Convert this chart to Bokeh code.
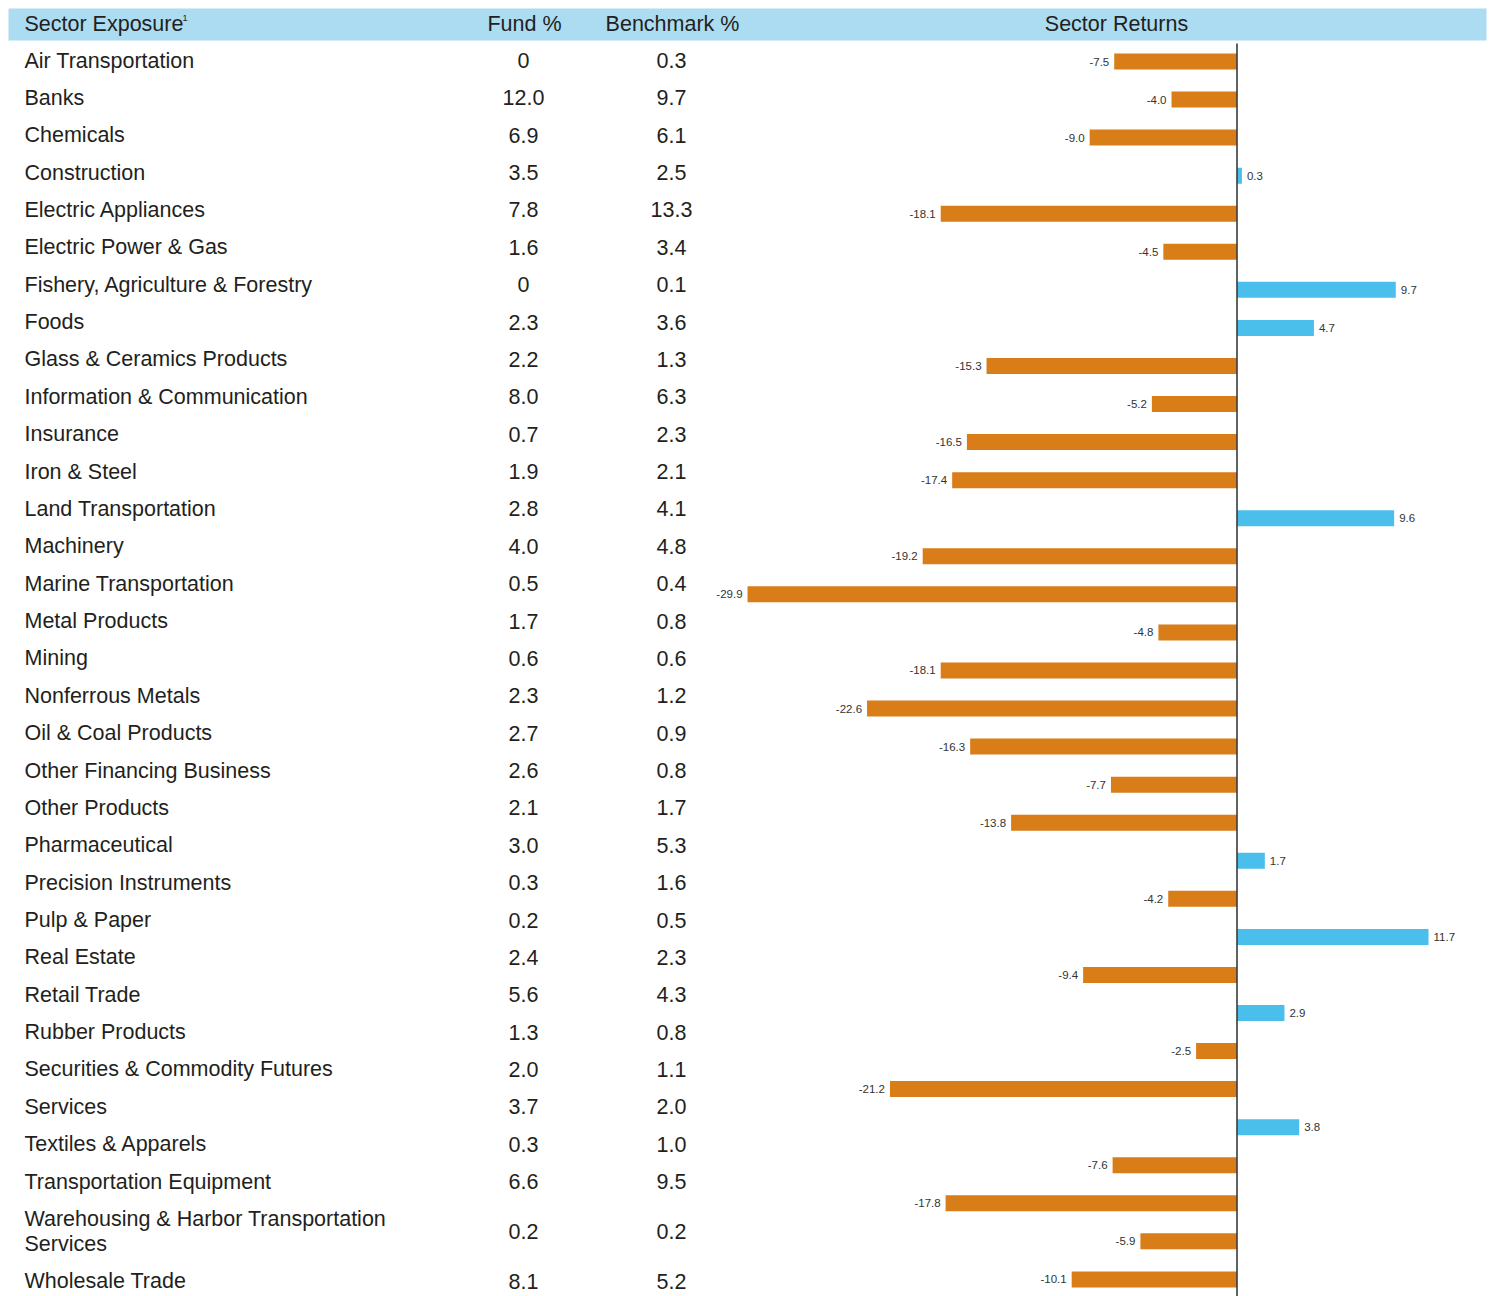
import textwrap
from bokeh.plotting import figure
from bokeh.models import Range1d
from bokeh.embed import file_html
from bokeh.resources import INLINE
from bokeh.core.properties import value

# ---------------- data ----------------
sectors = [
    "Air Transportation", "Banks", "Chemicals", "Construction",
    "Electric Appliances", "Electric Power & Gas",
    "Fishery, Agriculture & Forestry", "Foods", "Glass & Ceramics Products",
    "Information & Communication", "Insurance", "Iron & Steel",
    "Land Transportation", "Machinery", "Marine Transportation",
    "Metal Products", "Mining", "Nonferrous Metals", "Oil & Coal Products",
    "Other Financing Business", "Other Products", "Pharmaceutical",
    "Precision Instruments", "Pulp & Paper", "Real Estate", "Retail Trade",
    "Rubber Products", "Securities & Commodity Futures", "Services",
    "Textiles & Apparels", "Transportation Equipment",
    "Warehousing & Harbor Transportation Services", "Wholesale Trade",
]
fund = [0, 12.0, 6.9, 3.5, 7.8, 1.6, 0, 2.3, 2.2, 8.0, 0.7, 1.9, 2.8, 4.0,
        0.5, 1.7, 0.6, 2.3, 2.7, 2.6, 2.1, 3.0, 0.3, 0.2, 2.4, 5.6, 1.3, 2.0,
        3.7, 0.3, 6.6, 0.2, 8.1]
benchmark = [0.3, 9.7, 6.1, 2.5, 13.3, 3.4, 0.1, 3.6, 1.3, 6.3, 2.3, 2.1, 4.1,
             4.8, 0.4, 0.8, 0.6, 1.2, 0.9, 0.8, 1.7, 5.3, 1.6, 0.5, 2.3, 4.3,
             0.8, 1.1, 2.0, 1.0, 9.5, 0.2, 5.2]
returns = [-7.5, -4.0, -9.0, 0.3, -18.1, -4.5, 9.7, 4.7, -15.3, -5.2, -16.5,
           -17.4, 9.6, -19.2, -29.9, -4.8, -18.1, -22.6, -16.3, -7.7, -13.8,
           1.7, -4.2, 11.7, -9.4, 2.9, -2.5, -21.2, 3.8, -7.6, -17.8, -5.9,
           -10.1]
headers = ["Sector Exposure", "Fund %", "Benchmark %", "Sector Returns"]
footnote_mark = "1"

# ---------------- layout (page pixel positions) ----------------
W, H = 1488, 1296
ZERO_PX = 1236.5
PX_PER_UNIT = 16.37
BAR0_PX = 61.0
BAR_PITCH = 38.06
ROW0_PX = 60.0
ROW_PITCH = 37.37
LINE_H = 25.0
HEAD_L, HEAD_R, HEAD_T, HEAD_B = 8, 1486, 8, 40

FONT = "Liberation Sans"
FS = "21.5px"
TXT = "#231f20"
ORANGE = "#D97D19"
BLUE = "#4BBFEC"
HEAD_BG = "#ABDCF1"


def xd(px):
    return (px - ZERO_PX) / PX_PER_UNIT


def yd(py):
    return (py - BAR0_PX) / BAR_PITCH


p = figure(width=W, height=H,
           x_range=Range1d(xd(0), xd(W)),
           y_range=Range1d(yd(H), yd(0)),
           x_axis_type=None, y_axis_type=None,
           output_backend="svg", toolbar_location=None,
           min_border=0, outline_line_color=None)
p.grid.visible = False
p.background_fill_color = "white"
p.border_fill_color = "white"

# header band
p.quad(left=xd(HEAD_L), right=xd(HEAD_R), top=yd(HEAD_T), bottom=yd(HEAD_B),
       fill_color=HEAD_BG, line_color=None)

hy = yd((HEAD_T + HEAD_B) / 2 - 1)
p.text(x=[xd(24)], y=[hy], text=[headers[0]], text_font=value(FONT),
       text_font_size=FS, text_color=TXT, text_align="left",
       text_baseline="middle")
p.text(x=[xd(182)], y=[yd(17)], text=[footnote_mark], text_font=value(FONT),
       text_font_size="9px", text_color=TXT, text_align="left",
       text_baseline="middle")
p.text(x=[xd(524), xd(672), xd(1116)], y=[hy] * 3, text=headers[1:],
       text_font=value(FONT), text_font_size=FS, text_color=TXT,
       text_align="center", text_baseline="middle")

# table rows
row_y = []
prev_extra = 0.0
ycur = ROW0_PX
name_x, name_y, name_t = [], [], []
for i, name in enumerate(sectors):
    lines = textwrap.wrap(name, 36)
    extra = (len(lines) - 1) * LINE_H
    if i > 0:
        ycur += ROW_PITCH + prev_extra / 2 + extra / 2
    row_y.append(ycur)
    prev_extra = extra
    for k, ln in enumerate(lines):
        name_x.append(xd(24))
        name_y.append(yd(ycur - extra / 2 + k * LINE_H))
        name_t.append(ln)

p.text(x=name_x, y=name_y, text=name_t, text_font=value(FONT),
       text_font_size=FS, text_color=TXT, text_align="left",
       text_baseline="middle")


def fmt(v):
    return "0" if v == 0 else f"{v:.1f}"


p.text(x=[xd(523)] * len(fund), y=[yd(v) for v in row_y],
       text=[fmt(v) for v in fund], text_font=value(FONT),
       text_font_size=FS, text_color=TXT, text_align="center",
       text_baseline="middle")
p.text(x=[xd(671)] * len(benchmark), y=[yd(v) for v in row_y],
       text=[fmt(v) for v in benchmark], text_font=value(FONT),
       text_font_size=FS, text_color=TXT, text_align="center",
       text_baseline="middle")

# bars
idx = list(range(len(returns)))
colors = [BLUE if r > 0 else ORANGE for r in returns]
p.hbar(y=idx, left=0, right=returns, height=16 / BAR_PITCH,
       fill_color=colors, line_color=None)

# zero axis line
p.segment(x0=[0], x1=[0], y0=[yd(43)], y1=[yd(H)], line_color="#3a3a3a",
          line_width=1.6)

# value labels
p.text(x=returns, y=idx, text=[f"{r:.1f}" for r in returns],
       x_offset=[5 if r > 0 else -5 for r in returns],
       text_align=["left" if r > 0 else "right" for r in returns],
       text_font=value(FONT), text_font_size="11.5px", text_color="#333333",
       text_baseline="middle")

open("out.html", "w").write(file_html(p, INLINE))
